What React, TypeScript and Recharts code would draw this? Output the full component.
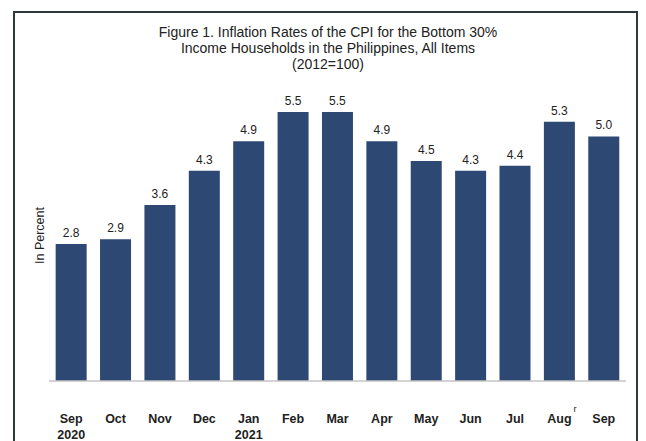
import { BarChart, Bar, XAxis, YAxis, LabelList } from "recharts";

// months on the category axis; a year is added under the first month of each year
const categories = ["Sep 2020", "Oct", "Nov", "Dec", "Jan 2021", "Feb", "Mar", "Apr", "May", "Jun", "Jul", "Aug", "Sep"];
const inflation = [2.8, 2.9, 3.6, 4.3, 4.9, 5.5, 5.5, 4.9, 4.5, 4.3, 4.4, 5.3, 5.0];
// months marked as revised ("r")
const revised = [false, false, false, false, false, false, false, false, false, false, false, true, false];

const titleLines = [
  "Figure 1. Inflation Rates of the CPI for the Bottom 30%",
  "Income Households in the Philippines, All Items",
  "(2012=100)",
];

const data = categories.map((c, i) => ({ month: c, value: inflation[i], rev: revised[i] }));

const FONT = "'Liberation Sans', Arial, sans-serif";
const BAR = "#2c4873";

function MonthTick(props: any) {
  const { x, y, payload, index } = props;
  const [m, yr] = String(payload.value).split(" ");
  return (
    <g>
      <text x={x} y={y + 42} textAnchor="middle" fontFamily={FONT} fontWeight="bold" fontSize={12.5} fill="#222">
        {m}
      </text>
      {revised[index] && (
        <text x={x + 14} y={y + 31} fontFamily={FONT} fontSize={9} fill="#222">
          r
        </text>
      )}
      {yr && (
        <text x={x} y={y + 58} textAnchor="middle" fontFamily={FONT} fontWeight="bold" fontSize={12.5} fill="#222">
          {yr}
        </text>
      )}
    </g>
  );
}

function YTitle(props: any) {
  const { viewBox } = props;
  const cx = viewBox.x + viewBox.width - 5;
  const cy = viewBox.y + viewBox.height / 2 - 11;
  return (
    <text
      x={cx}
      y={cy}
      textAnchor="middle"
      transform={`rotate(-90, ${cx}, ${cy})`}
      fontFamily={FONT}
      fontSize={12.5}
      fill="#222"
    >
      In Percent
    </text>
  );
}

export default function App() {
  return (
    <div style={{ position: "fixed", left: 0, top: 0, width: 646, height: 441, background: "#fff", overflow: "hidden" }}>
      <div
        style={{
          position: "absolute",
          left: 13,
          top: 11,
          width: 621,
          height: 460,
          border: "2px solid #2f3a3a",
        }}
      />
      <div
        style={{
          position: "absolute",
          left: 0,
          top: 24,
          width: 656,
          textAlign: "center",
          fontFamily: FONT,
          fontSize: 14,
          lineHeight: "16px",
          color: "#222",
        }}
      >
        {titleLines.map((t) => (
          <div key={t}>{t}</div>
        ))}
      </div>
      <div style={{ position: "absolute", left: 0, top: 0 }}>
        <BarChart
          width={646}
          height={441}
          data={data}
          margin={{ top: 112, right: 20, left: 0, bottom: 0 }}
          barCategoryGap="15%"
        >
          <XAxis
            dataKey="month"
            height={60}
            interval={0}
            tickLine={false}
            tickSize={0}
            tickMargin={0}
            axisLine={{ stroke: "#c4c4c4", strokeWidth: 1.5 }}
            tick={<MonthTick />}
          />
          <YAxis
            width={49}
            domain={[0, 5.5]}
            tick={false}
            tickLine={false}
            axisLine={false}
            label={<YTitle />}
          />
          <Bar dataKey="value" fill={BAR} isAnimationActive={false}>
            <LabelList
              dataKey="value"
              position="top"
              offset={7}
              formatter={(v: any) => Number(v).toFixed(1)}
              style={{ fontFamily: FONT, fontSize: 12, fill: "#222" }}
            />
          </Bar>
        </BarChart>
      </div>
    </div>
  );
}
